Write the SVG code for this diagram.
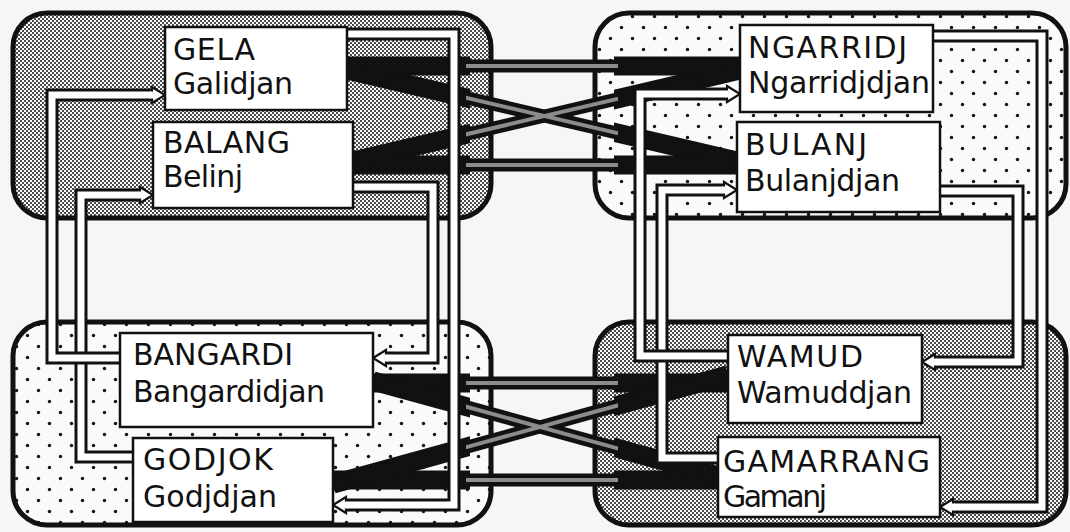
<svg xmlns="http://www.w3.org/2000/svg" xmlns:xlink="http://www.w3.org/1999/xlink" width="1070" height="532" viewBox="0 0 1070 532">
<style>
.quad{stroke:#111;stroke-width:5}
.node rect{fill:#fff;stroke:#111;stroke-width:2.5}
.node text{font-family:"DejaVu Sans","Liberation Sans",sans-serif;font-size:30px;fill:#111}
.po{fill:none;stroke:#111;stroke-width:13;stroke-linejoin:miter}
.pi{fill:none;stroke:#fff;stroke-width:7;stroke-linejoin:miter}
.bw{fill:none;stroke:#111;stroke-width:19}
.bn{fill:none;stroke:#111;stroke-width:13}
.glow{fill:none;stroke:#8c8c8c;stroke-width:4}
</style>
<defs>
<pattern id="dense" width="4" height="4" patternUnits="userSpaceOnUse">
<rect width="4" height="4" fill="#fafafa"/>
<circle cx="1" cy="1" r="1" fill="#111"/><circle cx="3" cy="3" r="1" fill="#111"/>
</pattern>
<pattern id="sparse" width="22" height="22" patternUnits="userSpaceOnUse">
<rect width="22" height="22" fill="#fafafa"/>
<circle cx="5.5" cy="5.5" r="1.7" fill="#111"/><circle cx="16.5" cy="16.5" r="1.7" fill="#111"/>
</pattern>
<clipPath id="quadclip"><rect x="0" y="0" width="470" height="532"/><rect x="614" y="0" width="456" height="532"/></clipPath>
<clipPath id="gapclip"><rect x="466" y="0" width="152" height="532"/></clipPath>
<path id="h1" d="M347 66 L740 66"/>
<path id="h2" d="M353 165 L737 165"/>
<path id="d1" d="M347 70 L737 161"/>
<path id="d2" d="M353 161 L740 70"/>
<path id="h3" d="M373 383 L728 383"/>
<path id="h4" d="M333 480 L718 480"/>
<path id="d3" d="M373 381 L718 476"/>
<path id="d4" d="M333 484 L728 375"/>
<g id="arr">
<path d="M-13,-8 L0,0 L-13,8 Z" fill="#fff" stroke="#111" stroke-width="2.2"/>
<rect x="-15" y="-3.5" width="3.6" height="7" fill="#fff"/>
</g>
</defs>
<rect width="1070" height="532" fill="#f6f6f4"/>
<g id="quadrants">
<rect class="quad" x="13" y="13" width="478" height="205" rx="34" fill="url(#dense)"/>
<rect class="quad" x="595" y="13" width="471" height="205" rx="34" fill="url(#sparse)"/>
<rect class="quad" x="13" y="322" width="478" height="203" rx="34" fill="url(#sparse)"/>
<rect class="quad" x="595" y="322" width="471" height="203" rx="34" fill="url(#dense)"/>
</g>
<g id="connectors">
<g class="bw" clip-path="url(#quadclip)">
<use xlink:href="#h1"/><use xlink:href="#h2"/><use xlink:href="#d1"/><use xlink:href="#d2"/>
<use xlink:href="#h3"/><use xlink:href="#h4"/><use xlink:href="#d3"/><use xlink:href="#d4"/>
</g>
<g class="bn">
<use xlink:href="#h1"/><use xlink:href="#h2"/><use xlink:href="#d1"/><use xlink:href="#d2"/>
<use xlink:href="#h3"/><use xlink:href="#h4"/><use xlink:href="#d3"/><use xlink:href="#d4"/>
</g>
<g class="glow" clip-path="url(#gapclip)">
<use xlink:href="#h1"/><use xlink:href="#h2"/><use xlink:href="#d1"/><use xlink:href="#d2"/>
<use xlink:href="#h3"/><use xlink:href="#h4"/><use xlink:href="#d3"/><use xlink:href="#d4"/>
</g>
<g id="pipes">
<path class="po" d="M133 457 H81 V195 H141"/><path class="pi" d="M133 457 H81 V195 H141"/>
<path class="po" d="M120 358 H52 V95 H153"/><path class="pi" d="M120 358 H52 V95 H153"/>
<path class="po" d="M347 34 H454 V505 H345"/><path class="pi" d="M347 34 H454 V505 H345"/>
<path class="po" d="M353 187 H433 V358 H385"/><path class="pi" d="M353 187 H433 V358 H385"/>
<path class="po" d="M933 36 H1042 V507 H952"/><path class="pi" d="M933 36 H1042 V507 H952"/>
<path class="po" d="M940 191 H1018 V362 H934"/><path class="pi" d="M940 191 H1018 V362 H934"/>
<path class="po" d="M718 458 H662 V190 H725"/><path class="pi" d="M718 458 H662 V190 H725"/>
<path class="po" d="M728 356 H640 V94 H728"/><path class="pi" d="M728 356 H640 V94 H728"/>
</g>
<g id="arrowheads">
<use xlink:href="#arr" transform="translate(165 95)"/>
<use xlink:href="#arr" transform="translate(153 195)"/>
<use xlink:href="#arr" transform="translate(333 505) scale(-1 1)"/>
<use xlink:href="#arr" transform="translate(373 358) scale(-1 1)"/>
<use xlink:href="#arr" transform="translate(940 507) scale(-1 1)"/>
<use xlink:href="#arr" transform="translate(922 362) scale(-1 1)"/>
<use xlink:href="#arr" transform="translate(737 190)"/>
<use xlink:href="#arr" transform="translate(740 94)"/>
</g>
</g>
<g id="node-gela" class="node">
<rect x="165" y="27" width="182" height="83"/>
<text x="173" y="60" textLength="82" lengthAdjust="spacing">GELA</text>
<text x="173" y="94" textLength="120" lengthAdjust="spacing">Galidjan</text>
</g>
<g id="node-balang" class="node">
<rect x="153" y="122" width="200" height="86"/>
<text x="163" y="153" textLength="127" lengthAdjust="spacing">BALANG</text>
<text x="163" y="187" textLength="80" lengthAdjust="spacing">Belinj</text>
</g>
<g id="node-ngarridj" class="node">
<rect x="740" y="25" width="193" height="87"/>
<text x="748" y="58" textLength="159" lengthAdjust="spacing">NGARRIDJ</text>
<text x="748" y="93" textLength="182" lengthAdjust="spacing">Ngarridjdjan</text>
</g>
<g id="node-bulanj" class="node">
<rect x="737" y="122" width="203" height="90"/>
<text x="745" y="155" textLength="122" lengthAdjust="spacing">BULANJ</text>
<text x="745" y="191" textLength="155" lengthAdjust="spacing">Bulanjdjan</text>
</g>
<g id="node-bangardi" class="node">
<rect x="120" y="333" width="253" height="94"/>
<text x="133" y="365" textLength="160" lengthAdjust="spacing">BANGARDI</text>
<text x="133" y="402" textLength="192" lengthAdjust="spacing">Bangardidjan</text>
</g>
<g id="node-godjok" class="node">
<rect x="133" y="438" width="200" height="84"/>
<text x="143" y="470" textLength="130" lengthAdjust="spacing">GODJOK</text>
<text x="143" y="507" textLength="134" lengthAdjust="spacing">Godjdjan</text>
</g>
<g id="node-wamud" class="node">
<rect x="728" y="335" width="194" height="88"/>
<text x="737" y="367" textLength="126" lengthAdjust="spacing">WAMUD</text>
<text x="737" y="403" textLength="175" lengthAdjust="spacing">Wamuddjan</text>
</g>
<g id="node-gamarrang" class="node">
<rect x="718" y="437" width="222" height="80"/>
<text x="723" y="472" textLength="207" lengthAdjust="spacing">GAMARRANG</text>
<text x="723" y="507" textLength="104" lengthAdjust="spacing">Gamanj</text>
</g>
</svg>
